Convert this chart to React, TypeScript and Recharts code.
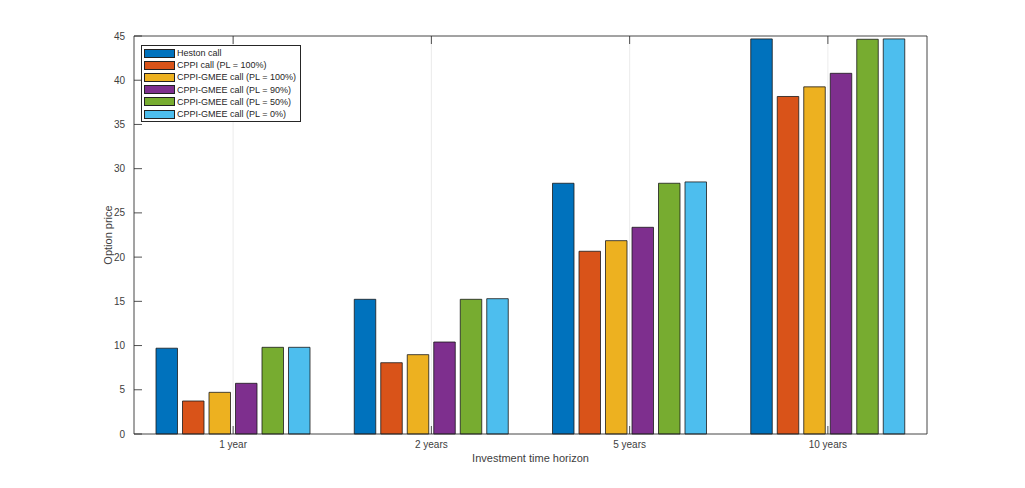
import React from 'react';
import { BarChart, Bar, XAxis, YAxis, CartesianGrid, Legend } from 'recharts';

const categories = ['1 year', '2 years', '5 years', '10 years'];
const hestonCall = [9.7, 15.23, 28.35, 44.67];
const cppiCall100 = [3.73, 8.06, 20.66, 38.16];
const gmee100 = [4.71, 8.97, 21.86, 39.25];
const gmee90 = [5.73, 10.4, 23.37, 40.78];
const gmee50 = [9.8, 15.23, 28.35, 44.63];
const gmee0 = [9.8, 15.3, 28.5, 44.67];
const yTicks = [0, 5, 10, 15, 20, 25, 30, 35, 40, 45];

const seriesNames = [
  'Heston call',
  'CPPI call (PL = 100%)',
  'CPPI-GMEE call (PL = 100%)',
  'CPPI-GMEE call (PL = 90%)',
  'CPPI-GMEE call (PL = 50%)',
  'CPPI-GMEE call (PL = 0%)',
];
const seriesKeys = ['s0', 's1', 's2', 's3', 's4', 's5'];
const seriesColors = ['#0072BD', '#D95319', '#EDB120', '#7E2F8E', '#77AC30', '#4DBEEE'];
const seriesValues = [hestonCall, cppiCall100, gmee100, gmee90, gmee50, gmee0];

const data = categories.map((c, i) => {
  const row: any = { name: c };
  seriesKeys.forEach((k, j) => {
    row[k] = seriesValues[j][i];
  });
  return row;
});

const W = 1009;
const H = 472;
const M = { top: 27, right: 89, left: 0, bottom: 0 };
const LEFT_W = 126;
const BOTTOM_H = 46;
const PLOT_L = M.left + LEFT_W;
const PLOT_R = W - M.right - 1;
const PLOT_T = M.top + 1;
const PLOT_B = H - BOTTOM_H;
const TICK_LEN = 8;
const AXIS_COLOR = '#262626';
const TEXT_COLOR = '#404040';
const FONT = '"Liberation Sans", Arial, Helvetica, sans-serif';

const LeftTick = (props: any) => {
  const { y, payload } = props;
  return (
    <g>
      <line x1={PLOT_L} x2={PLOT_L + TICK_LEN} y1={y} y2={y} stroke={AXIS_COLOR} strokeWidth={0.8} />
      <text x={PLOT_L - 9} y={y} dy={3.5} textAnchor="end" fontSize={10} fill={TEXT_COLOR} fontFamily={FONT}>
        {payload.value}
      </text>
    </g>
  );
};

const RightTick = (props: any) => {
  const { y } = props;
  return <line x1={PLOT_R} x2={PLOT_R - TICK_LEN} y1={y} y2={y} stroke={AXIS_COLOR} strokeWidth={0.8} />;
};

const BottomTick = (props: any) => {
  const { x, payload } = props;
  return (
    <g>
      <line x1={x} x2={x} y1={PLOT_B} y2={PLOT_B - TICK_LEN} stroke={AXIS_COLOR} strokeWidth={0.8} />
      <text x={x} y={PLOT_B + 14} textAnchor="middle" fontSize={10} fill={TEXT_COLOR} fontFamily={FONT}>
        {payload.value}
      </text>
    </g>
  );
};

const TopTick = (props: any) => {
  const { x } = props;
  return <line x1={x} x2={x} y1={PLOT_T} y2={PLOT_T + TICK_LEN} stroke={AXIS_COLOR} strokeWidth={0.8} />;
};

const YLabel = () => (
  <text
    x={99.5}
    y={(PLOT_T + PLOT_B) / 2}
    transform={`rotate(-90 99.5 ${(PLOT_T + PLOT_B) / 2})`}
    textAnchor="middle"
    dominantBaseline="central"
    fontSize={11}
    fill={TEXT_COLOR}
    fontFamily={FONT}
  >
    Option price
  </text>
);

const XLabel = () => (
  <text
    x={(PLOT_L + PLOT_R) / 2}
    y={PLOT_B + 28}
    textAnchor="middle"
    fontSize={11}
    fill={TEXT_COLOR}
    fontFamily={FONT}
  >
    Investment time horizon
  </text>
);

const LegendBox = () => (
  <div
    style={{
      border: '1px solid #262626',
      background: '#fff',
      padding: '1px 3px 1px 2px',
      fontFamily: FONT,
      fontSize: 9,
      color: '#262626',
      width: 160,
      boxSizing: 'border-box',
      textAlign: 'left',
    }}
  >
    {seriesNames.map((n, i) => (
      <div key={n} style={{ display: 'flex', alignItems: 'center', height: 12.2 }}>
        <div
          style={{
            width: 31,
            height: 9,
            background: seriesColors[i],
            border: '1px solid #222',
            boxSizing: 'border-box',
            marginRight: 2,
            flexShrink: 0,
          }}
        />
        <span style={{ whiteSpace: 'nowrap' }}>{n}</span>
      </div>
    ))}
  </div>
);

export default function App() {
  return (
    <div style={{ width: W, height: H, position: 'relative' }}>
      <BarChart
        width={W}
        height={H}
        data={data}
        margin={M}
        barSize={21.5}
        barGap={5}
      >
        <CartesianGrid stroke="#e6e6e6" strokeWidth={0.8} />
        <XAxis
          dataKey="name"
          xAxisId="bottom"
          orientation="bottom"
          height={BOTTOM_H}
          axisLine={{ stroke: AXIS_COLOR, strokeWidth: 0.8 }}
          tickLine={false}
          tick={<BottomTick />}
          interval={0}
          label={{ content: () => <XLabel /> }}
        />
        <XAxis
          dataKey="name"
          xAxisId="top"
          orientation="top"
          height={1}
          axisLine={{ stroke: AXIS_COLOR, strokeWidth: 0.8 }}
          tickLine={false}
          tick={<TopTick />}
          interval={0}
        />
        <YAxis
          yAxisId="left"
          width={LEFT_W}
          domain={[0, 45]}
          ticks={yTicks}
          interval={0}
          axisLine={{ stroke: AXIS_COLOR, strokeWidth: 0.8 }}
          tickLine={false}
          tick={<LeftTick />}
          label={{ content: () => <YLabel /> }}
        />
        <YAxis
          yAxisId="right"
          orientation="right"
          width={1}
          domain={[0, 45]}
          ticks={yTicks}
          interval={0}
          axisLine={{ stroke: AXIS_COLOR, strokeWidth: 0.8 }}
          tickLine={false}
          tick={<RightTick />}
        />
        <Legend
          content={<LegendBox />}
          layout="horizontal"
          align="center"
          verticalAlign="middle"
          wrapperStyle={{ position: 'absolute', left: 133, top: 37, width: 'auto', height: 'auto' }}
        />
        {seriesKeys.map((k, i) => (
          <Bar
            key={k}
            dataKey={k}
            name={seriesNames[i]}
            xAxisId="bottom"
            yAxisId="left"
            fill={seriesColors[i]}
            stroke="#1a1a1a"
            strokeWidth={0.8}
            isAnimationActive={false}
          />
        ))}
      </BarChart>
    </div>
  );
}
